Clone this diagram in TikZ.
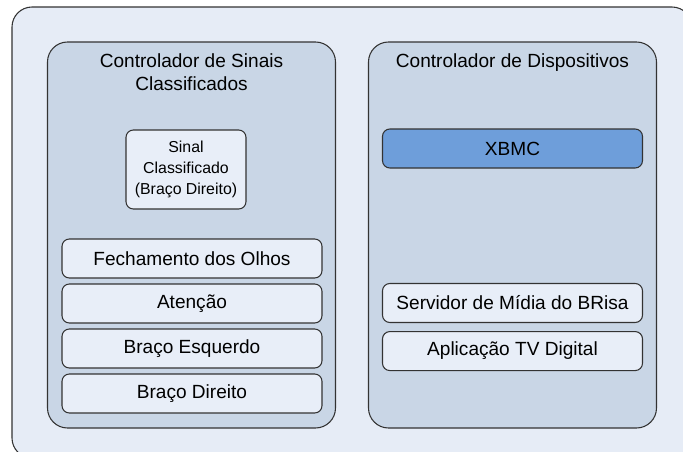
\documentclass[tikz,border=0pt]{standalone}
\usepackage{fontspec}
\setmainfont{Liberation Sans}
\usetikzlibrary{positioning}

\definecolor{fundo}{HTML}{E6ECF6}
\definecolor{painel}{HTML}{C9D6E6}
\definecolor{caixa}{HTML}{E8EEF8}
\definecolor{destaque}{HTML}{6E9EDA}
\definecolor{linha}{HTML}{333333}

\tikzset{
  painel/.style={draw=linha, line width=0.8pt, fill=painel, rounded corners=15pt,
    minimum width=216pt, minimum height=289.5pt, inner sep=0pt},
  caixa/.style={draw=linha, line width=0.8pt, fill=caixa, rounded corners=5.5pt,
    minimum width=195pt, minimum height=29.25pt, inner sep=0pt,
    font=\fontsize{14.3}{17.3}\selectfont},
  titulo/.style={anchor=north, inner sep=0pt, align=center,
    font=\fontsize{14.3}{17.3}\selectfont},
}

\begin{document}
\begin{tikzpicture}[x=0.75pt, y=-0.75pt]
  \useasboundingbox (0,0) rectangle (683,451);
  % fundo
  \begin{scope}
    \clip (0,0) rectangle (683,451);
    \draw[draw=linha, line width=0.8pt, fill=fundo, rounded corners=15pt]
      (12,7) rectangle (692,458);
  \end{scope}

  % paineis
  \node[painel] (sinais) at (191.5,235) {};
  \node[painel] (disp) at (512.5,235) {};
  \node[titulo, below=9pt of sinais.north] (tSinais)
    {Controlador de Sinais\\Classificados};
  \node[titulo, below=9pt of disp.north] (tDisp)
    {Controlador de Dispositivos};

  % lado esquerdo
  \node[caixa, minimum width=90pt, minimum height=59.25pt, align=center,
    font=\fontsize{11.9}{15.75}\selectfont] (sinal) at (186,169.5)
    {Sinal\\Classificado\\(Braço Direito)};
  \foreach \y/\nome/\texto in {
      258.5/olhos/Fechamento dos Olhos,
      303.5/atencao/Atenção,
      348.5/esquerdo/Braço Esquerdo,
      393.5/direito/Braço Direito
    } {
      \node[caixa] (\nome) at (192,\y) {\texto};
    };

  % lado direito
  \node[caixa, fill=destaque] (xbmc) at (512.5,148.5) {XBMC};
  \node[caixa] (servidor) at (512.5,303) {Servidor de Mídia do BRisa};
  \node[caixa, below=6pt of servidor] (aplicacao) {Aplicação TV Digital};
\end{tikzpicture}
\end{document}
